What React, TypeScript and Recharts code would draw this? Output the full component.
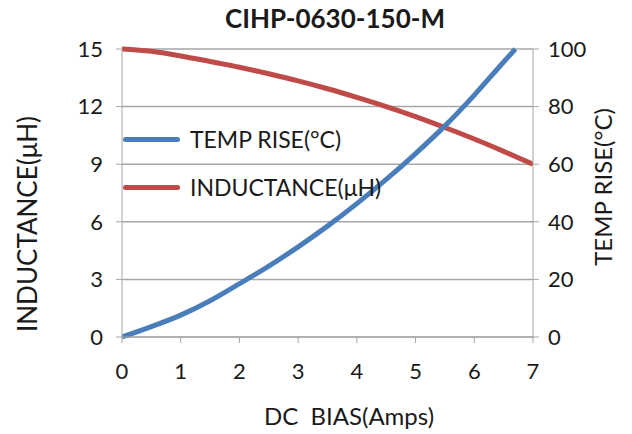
import { LineChart, Line, XAxis, YAxis, CartesianGrid, Legend } from "recharts"

const FONT = "Lato, 'Open Sans', sans-serif"
const BLUE = "#4a7ebb"
const RED = "#be4b48"
const GRID = "#a6a6a6"

// DC bias (A) for each series
const biasTemp = [0, 0.5, 1, 1.5, 2, 2.5, 3, 3.5, 4, 4.5, 5, 5.5, 6, 6.5, 6.7]
const tempRise = [0, 3.6, 7.6, 12.6, 18.5, 24.6, 31.3, 38.5, 46.3, 54.7, 63.7, 73.3, 84, 95.5, 100]

const biasInd = [0, 0.5, 1, 1.5, 2, 2.5, 3, 3.5, 4, 4.5, 5, 5.5, 6, 6.5, 7]
const inductance = [15, 14.88, 14.64, 14.35, 14.05, 13.71, 13.34, 12.93, 12.48, 12.0, 11.48, 10.91, 10.31, 9.67, 9.0]

const xTicks = [0, 1, 2, 3, 4, 5, 6, 7]
const leftTicks = [0, 3, 6, 9, 12, 15]
const rightTicks = [0, 20, 40, 60, 80, 100]

const tempData = biasTemp.map((x, i) => ({ x, temp: tempRise[i] }))
const indData = biasInd.map((x, i) => ({ x, ind: inductance[i] }))

const legendItems = [
  { label: "TEMP RISE(°C)", color: BLUE },
  { label: "INDUCTANCE(μH)", color: RED },
]

function ChartLegend() {
  return (
    <div style={{ fontFamily: FONT, fontSize: 23, color: "#1a1a1a" }}>
      {legendItems.map((it) => (
        <div key={it.label} style={{ display: "flex", alignItems: "center", height: 48 }}>
          <span style={{ display: "inline-block", width: 57, height: 5, borderRadius: 3, background: it.color }} />
          <span style={{ marginLeft: 10, whiteSpace: "nowrap" }}>{it.label}</span>
        </div>
      ))}
    </div>
  )
}

const tickStyle = { fill: "#1a1a1a", fontSize: 22, fontFamily: FONT }

export default function App() {
  return (
    <div style={{ position: "absolute", left: 0, top: 0, width: 632, height: 434, background: "#fff" }}>
      <LineChart width={632} height={434} data={indData} margin={{ top: 49, right: 39, bottom: 67, left: 62 }}>
        <text x={335} y={28} textAnchor="middle" fontFamily={FONT} fontWeight={700} fontSize={26} fill="#1a1a1a">
          CIHP-0630-150-M
        </text>
        <CartesianGrid yAxisId="left" vertical={false} stroke={GRID} strokeWidth={1.5} />
        <XAxis
          dataKey="x"
          type="number"
          domain={[0, 7]}
          ticks={xTicks}
          height={30}
          stroke={GRID}
          tickSize={6}
          tickMargin={20}
          tick={tickStyle}
          allowDataOverflow
          label={() => (
            <text
              x={349}
              y={415}
              textAnchor="middle"
              dominantBaseline="central"
              fontFamily={FONT}
              fontSize={24}
              fill="#1a1a1a"
              style={{ whiteSpace: "pre" }}
            >
              {"DC  BIAS(Amps)"}
            </text>
          )}
        />
        <YAxis
          yAxisId="left"
          domain={[0, 15]}
          ticks={leftTicks}
          width={60}
          stroke={GRID}
          tickSize={6}
          tickMargin={13}
          tick={tickStyle}
          label={() => (
            <text
              x={27}
              y={224}
              transform="rotate(-90 27 224)"
              textAnchor="middle"
              dominantBaseline="central"
              fontFamily={FONT}
              fontSize={26}
              fill="#1a1a1a"
            >
              INDUCTANCE(μH)
            </text>
          )}
        />
        <YAxis
          yAxisId="right"
          orientation="right"
          domain={[0, 100]}
          ticks={rightTicks}
          width={60}
          stroke={GRID}
          tickSize={6}
          tickMargin={9}
          tick={tickStyle}
          label={() => (
            <text
              x={602}
              y={187}
              transform="rotate(-90 602 187)"
              textAnchor="middle"
              dominantBaseline="central"
              fontFamily={FONT}
              fontSize={24}
              fill="#1a1a1a"
            >
              TEMP RISE(°C)
            </text>
          )}
        />
        <Legend
          layout="horizontal"
          align="center"
          verticalAlign="middle"
          wrapperStyle={{ left: 123, top: 115, width: 300 }}
          content={() => <ChartLegend />}
        />
        <Line
          yAxisId="left"
          data={indData}
          dataKey="ind"
          type="monotone"
          stroke={RED}
          strokeWidth={5}
          dot={false}
          activeDot={false}
          isAnimationActive={false}
        />
        <Line
          yAxisId="right"
          data={tempData}
          dataKey="temp"
          type="monotone"
          stroke={BLUE}
          strokeWidth={5}
          dot={false}
          activeDot={false}
          isAnimationActive={false}
        />
      </LineChart>
    </div>
  )
}
